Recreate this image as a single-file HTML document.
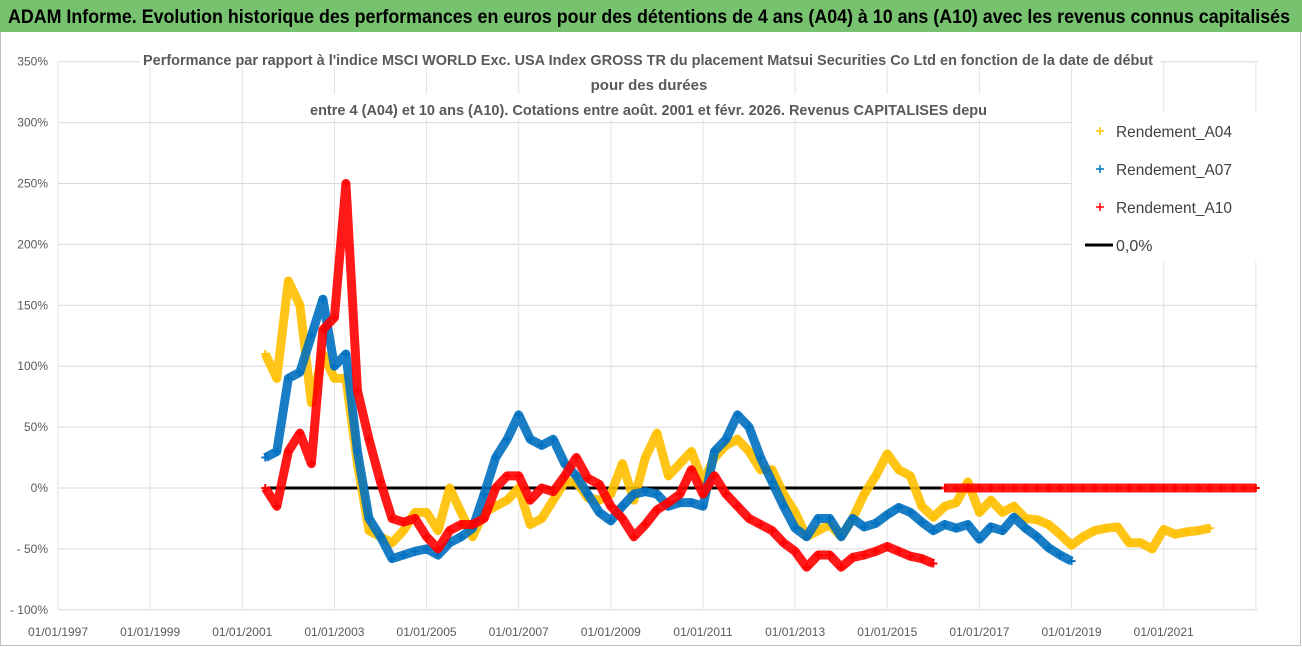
<!DOCTYPE html>
<html><head><meta charset="utf-8"><style>
html,body{margin:0;padding:0;background:#fff;}
svg{display:block;font-family:"Liberation Sans",sans-serif;}
</style></head><body>
<svg id="chart" width="1302" height="647" viewBox="0 0 1302 647" xmlns="http://www.w3.org/2000/svg">
<rect x="0" y="0" width="1302" height="647" fill="#fff"/>
<rect x="0.5" y="0.5" width="1300" height="645" fill="none" stroke="#bfbfbf"/>
<g>
<rect x="0" y="0" width="1302" height="32" fill="#77c26f"/>
<text x="8" y="23" font-size="19" font-weight="bold" fill="#000" textLength="1282" lengthAdjust="spacingAndGlyphs">ADAM Informe. Evolution historique des performances en euros pour des détentions de 4 ans (A04) à 10 ans (A10) avec les revenus connus capitalisés</text>
</g>
<g id="grid"></g>
<g id="yticks"></g>
<g id="xticks"></g>
<g id="zero"></g>
<g id="series"></g>
<g>
<rect x="140" y="44" width="1020" height="22" fill="#fff"/>
<rect x="585" y="70" width="128" height="22" fill="#fff"/>
<rect x="305" y="94" width="688" height="24" fill="#fff"/>
<text x="143" y="65" font-size="15" font-weight="bold" fill="#595959" textLength="1010" lengthAdjust="spacingAndGlyphs">Performance par rapport à l'indice MSCI WORLD Exc. USA Index GROSS TR  du placement Matsui Securities Co Ltd en fonction de la date de début</text>
<text x="649" y="90" font-size="15" font-weight="bold" fill="#595959" text-anchor="middle">pour des durées</text>
<text x="310" y="115" font-size="15" font-weight="bold" fill="#595959" textLength="677" lengthAdjust="spacingAndGlyphs">entre 4 (A04) et 10 ans (A10).  Cotations entre août. 2001 et févr. 2026. Revenus CAPITALISES depu</text>
</g>
<g>
<rect x="1072" y="112" width="190" height="150" fill="#fff"/>
<g><path d="M1096 131h8M1100 127v8" stroke="#FFC000" stroke-width="1.5"/><text x="1116" y="137" font-size="16" fill="#404040" textLength="116" lengthAdjust="spacingAndGlyphs">Rendement_A04</text></g>
<g><path d="M1096 169h8M1100 165v8" stroke="#0070C0" stroke-width="1.5"/><text x="1116" y="175" font-size="16" fill="#404040" textLength="116" lengthAdjust="spacingAndGlyphs">Rendement_A07</text></g>
<g><path d="M1096 207h8M1100 203v8" stroke="#FF0000" stroke-width="1.5"/><text x="1116" y="213" font-size="16" fill="#404040" textLength="116" lengthAdjust="spacingAndGlyphs">Rendement_A10</text></g>
<g><path d="M1085 245h28" stroke="#000" stroke-width="3"/><text x="1116" y="251" font-size="16" fill="#404040">0,0%</text></g>
</g>
</svg>
<script>
const yTicks = [350,300,250,200,150,100,50,0,-50,-100];
const yTickLabels = ["350%","300%","250%","200%","150%","100%","50%","0%","- 50%","- 100%"];
const xTickYears = [1997,1999,2001,2003,2005,2007,2009,2011,2013,2015,2017,2019,2021];
const xTickLabels = ["01/01/1997","01/01/1999","01/01/2001","01/01/2003","01/01/2005","01/01/2007","01/01/2009","01/01/2011","01/01/2013","01/01/2015","01/01/2017","01/01/2019","01/01/2021"];
const startYear = 2001.5;
const stepYear = 0.25;
const rendementA04 = [110,90, 170,150,70,110, 90,90,20,-35, -40,-45,-35,-20, -20,-35,0,-20, -40,-20,-15,-10, 0,-30,-25,-10, 5,5,-8,-10, -5,20,-10,25, 45,10,20,30, 5,25,35,40, 30,15,15,-5, -20,-40,-35,-30, -40,-25,-5,10, 28,15,10,-15, -24,-15,-12,5, -20,-10,-20,-15, -25,-26,-30,-38, -47,-40,-35,-33, -32,-45,-45,-50, -34,-38,-36,-35, -33,null,null,null, null];
const rendementA07 = [25,30, 90,95,125,155, 100,110,30,-25, -40,-58,-55,-52, -50,-55,-45,-40, -33,-5,25,40, 60,40,35,40, 20,10,-5,-20, -27,-15,-5,-3, -5,-15,-12,-12, -15,30,40,60, 50,25,5,-15, -33,-40,-25,-25, -40,-25,-32,-29, -22,-16,-20,-28, -35,-30,-33,-30, -42,-32,-35,-24, -33,-40,-49,-55, -60,null,null,null, null,null,null,null, null,null,null,null, null,null,null,null, null];
const rendementA10 = [0,-15, 30,45,20,130, 140,250,80,40, 5,-25,-28,-25, -40,-50,-35,-30, -30,-25,0,10, 10,-10,0,-3, 10,25,8,3, -15,-25,-40,-30, -18,-12,-5,15, -5,10,-5,-15, -25,-30,-35,-45, -52,-65,-55,-55, -65,-57,-55,-52, -48,-52,-56,-58, -62,0,0,0, 0,0,0,0, 0,0,0,0, 0,0,0,0, 0,0,0,0, 0,0,0,0, 0,0,0,0, 0];
const zeroLineRange = [2001.6, 2016.2];

const NS = "http://www.w3.org/2000/svg";
const xScale = t => 58 + (t - 1997) * 46.07;
const yScale = v => 488 - v * 1.218;
function mk(tag, attrs, parent){ const e=document.createElementNS(NS,tag); for(const k in attrs) e.setAttribute(k,attrs[k]); parent.appendChild(e); return e; }

const grid = document.getElementById('grid');
yTicks.forEach((v,i)=>{
  const l = mk('line',{x1:58,x2:1258,y1:yScale(v),y2:yScale(v),stroke:'#d9d9d9','stroke-width':1},grid);
  
  
  const t = mk('text',{x:48,y:yScale(v)+4,'font-size':12,fill:'#595959','text-anchor':'end'},document.getElementById('yticks'));
  t.textContent = yTickLabels[i];
  
  
});
xTickYears.concat([2023]).forEach(y=>{
  const l = mk('line',{x1:xScale(y),x2:xScale(y),y1:yScale(350),y2:yScale(-100),stroke:'#e3e3e3','stroke-width':1},grid);
  
  
});
xTickYears.forEach((y,i)=>{
  const t = mk('text',{x:xScale(y),y:636,'font-size':12,fill:'#595959','text-anchor':'middle'},document.getElementById('xticks'));
  t.textContent = xTickLabels[i];
  
  
});
const zl = mk('line',{x1:xScale(zeroLineRange[0]),x2:xScale(zeroLineRange[1]),y1:yScale(0),y2:yScale(0),stroke:'#000','stroke-width':3},document.getElementById('zero'));



function drawSeries(vals,color,name){
  const g = mk('g',{},document.getElementById('series'));
  
  
  let seg=[];
  const flush=()=>{ if(seg.length>1){ const p=mk('polyline',{points:seg.join(' '),fill:'none',stroke:color,'stroke-width':9,'stroke-linejoin':'round','stroke-opacity':0.9},g);   } seg=[]; };
  let prev=null;
  vals.forEach((v,i)=>{
    if(v===null){ flush(); prev=null; return; }
    if(prev!==null && v===0 && prev<-40) flush();
    seg.push(xScale(startYear+i*stepYear)+','+yScale(v));
    prev=v;
  });
  flush();
  vals.forEach((v,i)=>{
    if(v===null) return;
    const x=xScale(startYear+i*stepYear), y=yScale(v);
    const m=mk('path',{d:`M${x-4} ${y}h8M${x} ${y-4}v8`,stroke:color,'stroke-width':2},g);
    
    
  });
}
drawSeries(rendementA04,'#FFC000','series-a04');
drawSeries(rendementA07,'#0070C0','series-a07');
drawSeries(rendementA10,'#FF0000','series-a10');
</script>
</body></html>
